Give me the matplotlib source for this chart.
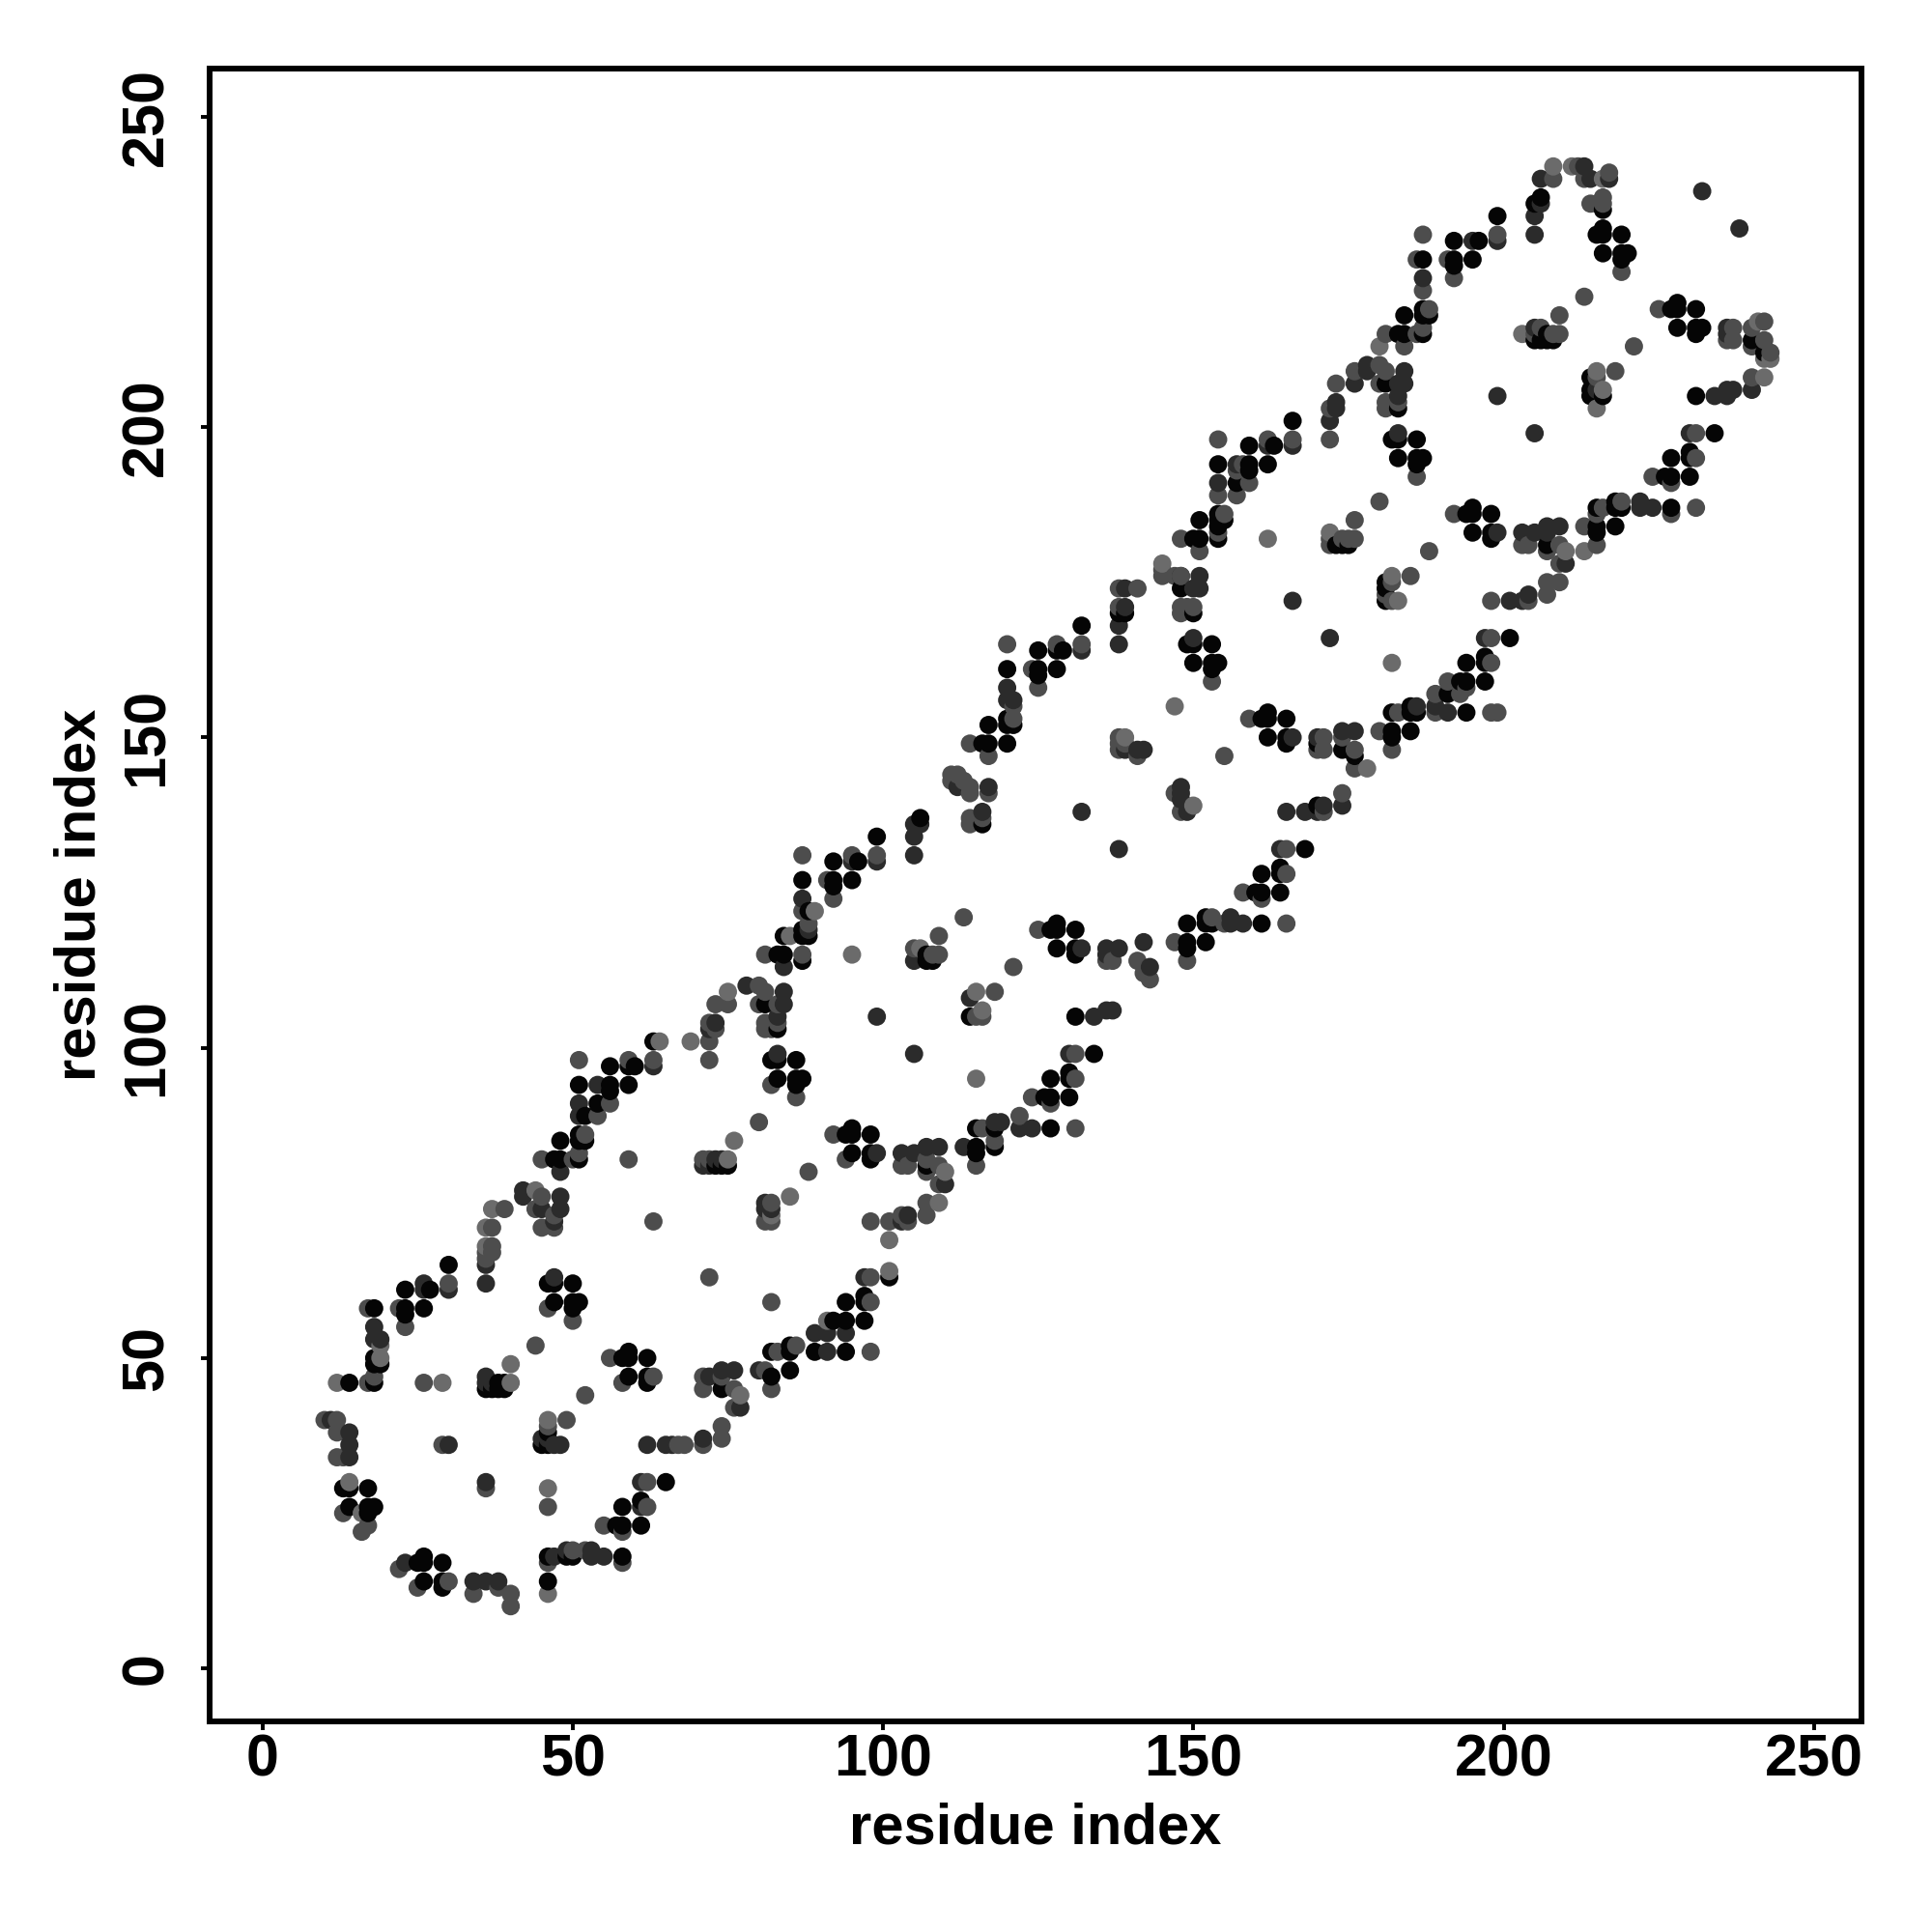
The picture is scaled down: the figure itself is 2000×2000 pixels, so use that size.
import matplotlib
matplotlib.use("Agg")
import matplotlib.pyplot as plt
import numpy as np

# contacts, split by grey level (residue i, residue j)
black = [
    (46,14),(26,18),(26,17),(25,17),(29,17),(29,14),(29,13),(26,14),(46,18),(49,18),(50,18),(58,18),
    (57,23),(58,23),(61,23),(58,26),(61,27),(65,30),(13,29),(14,29),(17,29),(14,26),(17,26),(18,26),(17,25),
    (14,46),(18,46),(18,49),(18,50),(19,49),(18,58),(23,58),(23,57),(23,61),(26,58),(27,61),(30,65),
    (36,45),(37,45),(38,45),(39,45),(38,46),(39,46),(47,82),(48,82),(51,82),(48,85),(51,85),(52,85),(51,86),
    (46,62),(47,62),(50,62),(47,59),(50,59),(51,59),(50,58),(59,51),(58,50),(59,50),(62,50),(59,47),(62,47),(62,46),
    (45,36),(46,36),(46,38),(74,45),(74,81),(75,81),(73,81),(82,51),(82,47),(85,48),
    (56,97),(59,97),(51,94),(56,94),(56,93),(54,91),(52,89),
    # second unit
    (99,134),(87,127),(87,118),(88,122),(88,118),(87,119),(84,118),(87,114),(83,115),(84,115),
    (92,130),(96,130),(92,127),(92,126),(95,127),(81,107),(83,103),(63,101),(60,97),(59,94),
    (82,98),(83,98),(86,98),(83,95),(86,95),(87,95),(86,94),
    (95,87),(94,86),(95,86),(98,86),(95,83),(98,83),(98,82),(107,81),(115,84),(115,83),(115,87),(118,84),(118,87),
    (127,87),(126,92),(127,92),(130,92),(127,95),(130,96),(130,95),(134,99),
    (107,115),(107,114),(108,114),(114,105),(101,63),(97,60),(97,59),(94,59),(92,56),(94,56),(97,56),(94,51),(89,51),(85,52),(85,51),
    # third unit
    (132,168),(125,164),(129,164),(128,164),(120,161),(125,161),(125,160),(128,161),(120,153),(120,152),(121,152),(117,152),(116,149),(117,149),(120,149),(116,136),(106,137),
    (151,185),(154,185),(154,184),(155,185),(151,182),(150,182),(154,182),(148,174),(150,170),(138,170),(139,170),
    (149,165),(150,165),(153,165),(150,162),(153,162),(154,162),(153,161),(173,181),(174,181),(175,181),(181,175),(181,174),(181,172),
    (162,154),(161,153),(162,153),(165,153),(162,150),(165,150),(165,149),(170,149),(174,148),(176,147),(170,139),
    (182,151),(182,150),(185,151),(182,154),(185,155),(185,154),(186,154),(191,157),(193,159),(194,159),(194,154),(194,162),(197,163),(197,162),(197,159),
    (128,120),(127,119),(128,119),(131,119),(128,116),(131,116),(131,115),(149,117),(149,116),(152,117),(149,120),(152,121),(152,120),(153,120),(161,120),
    (160,125),(161,125),(164,125),(161,128),(164,129),(164,128),(168,132),(131,105),
    (166,201),(159,197),(163,197),(154,194),(159,194),(159,193),(162,194),(157,191),(154,186),
    # top end
    (205,236),(206,237),(199,234),(196,230),(192,230),(187,227),(192,227),(192,226),(195,227),(187,219),(187,218),(188,218),(187,215),(184,218),(183,215),(184,215),
    (181,207),(183,203),(182,198),(183,198),(186,198),(183,195),(186,195),(187,195),(186,194),(195,187),(194,186),(195,186),(198,186),(195,183),(198,183),(198,182),
    (205,214),(206,214),(207,214),(208,214),(207,215),(214,208),(214,206),(214,205),(216,205),(216,235),
    (216,232),(215,231),(216,231),(219,231),(216,228),(219,228),(220,228),(219,227),
    (228,220),(227,219),(228,219),(231,219),(228,216),(231,216),(231,215),(232,216),(240,214),(242,212),(231,205),
    (234,199),(230,196),(227,195),(230,195),(226,192),(227,192),(230,192),(218,188),(218,187),(219,187),(227,187),
    (215,187),(218,184),(215,184),(215,183),(207,181),(201,166),
]
dark = [
    (38,14),(36,14),(34,14),(23,17),(47,18),(49,19),(53,19),(53,18),(55,18),(61,26),(61,30),(36,30),(14,36),(14,34),(30,36),(62,36),(65,36),(66,36),(71,37),
    (47,36),(48,36),(14,38),(11,40),(19,53),(18,53),(18,55),(36,47),(36,46),(37,46),(26,62),(26,61),(30,61),(36,62),(36,65),
    (42,77),(42,76),(48,76),(48,74),(45,74),(47,72),(48,80),(72,81),(74,82),(73,82),(71,81),(45,37),(46,37),(47,63),(72,47),(74,48),(76,48),(80,48),(77,42),
    (54,94),(51,91),(51,89),
    (99,130),(105,134),(105,136),(106,136),(105,131),(87,124),(88,119),(95,130),(84,113),(84,109),(84,107),(78,110),(83,105),(73,104),(72,103),(63,97),
    (83,99),(99,83),(103,83),(105,83),(107,84),(109,84),(110,78),(113,84),(118,88),(119,88),(122,87),(124,87),(130,99),
    (105,114),(99,105),(105,99),(114,108),(81,75),(81,74),(82,74),(104,73),(103,72),(97,63),(94,54),(89,54),(91,54),(91,51),
    (150,166),(148,176),(151,176),(150,174),(151,174),(139,174),(139,171),(138,168),(138,165),(132,164),(121,156),(120,158),(120,156),(112,142),(117,142),(116,138),(132,138),
    (166,172),(172,166),(174,151),(176,151),(166,150),(170,150),(174,139),(171,139),(168,138),(165,138),(170,138),(186,155),(189,155),(191,154),(197,166),(199,183),
    (139,148),(141,148),(142,148),(148,142),(148,141),(148,140),(149,138),(138,132),(132,116),(136,116),(138,116),(136,115),(142,117),(143,113),
    (156,121),(156,120),(158,120),(164,132),(134,105),(136,106),(137,106),(166,197),(172,201),(173,203),(162,197),(157,194),(154,191),(173,204),
    (206,240),(213,242),(214,240),(217,240),(206,236),(205,234),(205,231),(199,230),(195,230),(187,224),(178,210),(178,209),(184,209),(184,207),(176,207),(183,207),(183,205),(183,199),
    (199,205),(205,199),(205,216),(215,206),(232,238),(238,232),(236,216),(236,215),(240,206),(237,206),(236,206),(234,205),(236,205),
    (230,199),(222,188),(224,187),(222,187),(209,184),(207,184),(203,183),(205,183),(207,183),(210,178),(201,172),(203,172),(204,173),
]
mid = [
    (34,12),(40,12),(40,10),(38,13),(25,13),(30,14),(22,16),(58,17),(46,17),(52,19),(50,19),(55,23),(58,22),(62,26),(62,30),(36,29),(46,26),(13,25),(16,22),(17,23),
    (12,34),(13,34),(12,38),(10,40),(12,40),(29,36),(67,36),(68,36),(71,36),(74,37),(74,39),(46,39),(49,40),(52,44),(17,46),(18,47),(26,46),(22,58),(17,58),(23,55),
    (30,62),(36,66),(36,67),(37,67),(37,68),(37,71),(39,74),(45,76),(44,74),(47,73),(45,71),(47,71),(45,82),(50,82),(51,83),(52,86),(59,82),(71,82),(72,82),(80,88),
    (63,72),(72,63),(82,59),(46,58),(50,56),(56,50),(58,46),(63,47),(71,47),(74,47),(71,45),(76,45),(76,42),(82,45),(44,52),(81,48),
    (51,98),(56,91),(54,89),(59,98),(63,98),
    # second unit
    (87,131),(99,131),(87,122),(88,120),(87,115),(81,115),(91,127),(92,124),(95,131),(80,110),(81,109),(80,107),(75,107),(73,107),(83,107),(81,104),(81,103),(82,103),(83,104),
    (72,104),(73,103),(72,101),(72,98),(82,94),(86,92),(92,86),(94,82),(88,80),(103,81),(104,81),(107,82),(107,80),(109,81),(109,78),
    (115,81),(116,87),(118,85),(122,89),(124,92),(127,91),(131,95),(131,99),(131,87),(105,116),(109,115),(108,115),(109,118),(113,121),(121,113),(118,109),(115,105),(116,105),
    (82,75),(81,72),(82,72),(98,72),(101,72),(103,73),(104,72),(107,75),(107,73),(98,63),(98,59),(98,51),(86,52),(83,51),
    # third unit
    (132,165),(128,165),(120,165),(124,161),(125,158),(121,155),(121,153),(114,149),(117,147),(111,143),(112,144),(111,144),(113,143),(114,142),(114,141),(117,141),(114,137),(114,136),(116,137),
    (154,189),(157,189),(159,191),(148,182),(151,180),(145,177),(145,176),(147,176),(148,171),(149,171),(150,171),(148,170),(141,174),(138,171),(138,174),
    (153,159),(198,172),(172,182),(174,182),(175,182),(176,182),(172,181),(176,185),(180,188),(188,180),(185,176),(182,175),(182,172),(181,173),(192,186),(198,166),
    (159,153),(171,150),(170,148),(171,148),(174,150),(176,148),(176,145),(174,141),(171,138),(180,151),(182,148),(183,154),(199,154),(189,157),(189,154),(191,159),(194,158),(193,157),(198,154),(198,162),
    (138,150),(138,148),(138,149),(139,149),(141,147),(147,141),(148,138),(155,147),(125,119),(137,114),(136,114),(141,114),(142,112),(143,111),(147,117),(149,114),(153,121),(155,120),(165,120),
    (158,125),(161,124),(165,128),(165,132),(166,198),(172,198),(172,203),(162,198),(154,198),(158,194),(157,193),(155,186),(154,183),(148,176),(173,207),
    # top end
    (212,242),(208,240),(213,240),(214,236),(216,237),(216,236),(215,236),(199,231),(187,231),(186,227),(191,227),(192,224),(187,222),(188,219),(187,216),(181,215),(184,213),(186,215),
    (180,210),(181,209),(176,209),(180,207),(181,204),(181,203),(183,204),(186,192),(206,216),(205,215),(209,215),(213,221),(209,218),(221,213),(218,209),(215,208),(219,225),
    (225,219),(237,216),(236,214),(237,214),(240,216),(242,217),(240,213),(242,214),(243,212),(240,208),(231,199),(231,195),(224,192),(227,191),(219,188),(227,186),(231,187),
    (216,187),(215,186),(215,181),(213,184),(203,181),(204,181),(207,180),(209,181),(209,178),(207,175),(207,173),(204,172),(217,241),(208,215),(209,175),
]
light = [
    (46,12),(12,46),(29,46),(14,30),(16,25),(19,50),(19,52),(40,49),(40,46),(36,68),(36,71),(37,74),(44,77),(76,85),(75,82),(46,40),(77,44),
    (95,115),(85,118),(89,122),(85,76),(82,73),(69,101),(64,101),(75,109),(115,95),(116,106),(115,109),(110,80),(109,75),(101,69),(101,64),(91,56),(106,116),(46,29),
    (147,155),(139,150),(150,139),(162,182),(182,162),(172,183),(182,176),(183,172),(178,145),(145,178),
    (208,242),(211,242),(216,240),(203,215),(216,206),(215,209),(215,203),(241,217),(242,211),(243,211),(242,208),(213,180),(210,180),(180,213),
]

xticks = [0, 50, 100, 150, 200, 250]
yticks = [0, 50, 100, 150, 200, 250]

plt.rcParams['font.family'] = ['Liberation Sans', 'DejaVu Sans']

groups = [(black, 0.02), (dark, 0.17), (mid, 0.30), (light, 0.42)]
xs, ys, greys = [], [], []
for pts, g in groups:
    for p in pts:
        xs.append(p[0])
        ys.append(p[1])
        greys.append(g)
xs = np.array(xs)
ys = np.array(ys)
greys = np.array(greys)
# drawn in residue order, that is how the overlaps look in the original
order = np.lexsort((ys, xs))

fig = plt.figure(figsize=(20, 20), dpi=100)
ax = fig.add_axes([0.1084, 0.109, 0.8551, 0.8553])
ax.scatter(xs[order], ys[order], s=185, c=[str(g) for g in greys[order]], linewidths=0, zorder=3)

ax.set_xlim(-8.55, 257.67)
ax.set_ylim(-8.56, 257.7)
ax.set_xticks(xticks)
ax.set_yticks(yticks)
ax.tick_params(axis='both', length=6.5, width=2.8, labelsize=44)
ax.tick_params(axis='x', pad=2.7)
ax.tick_params(axis='y', pad=19)
for lab in ax.get_xticklabels() + ax.get_yticklabels():
    lab.set_fontweight('bold')
for lab in ax.get_yticklabels():
    lab.set_rotation(90)
    lab.set_va('center')
for s in ax.spines.values():
    s.set_linewidth(4.3)

ax.set_xlabel('residue index', fontsize=43, fontweight='bold', labelpad=10)
ax.set_ylabel('residue index', fontsize=43, fontweight='bold', labelpad=10)

fig.savefig('out.png', dpi=100)
